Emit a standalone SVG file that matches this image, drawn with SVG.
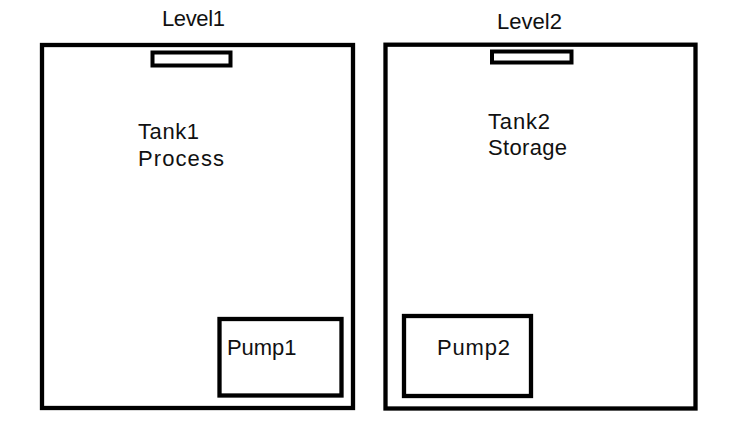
<svg xmlns="http://www.w3.org/2000/svg" width="732" height="435" viewBox="0 0 732 435">
<style>
.box{fill:none;stroke:#000;stroke-width:4.3}
.ind{fill:#fff;stroke:#000;stroke-width:4}
.t{font-family:"Liberation Sans",Arial,sans-serif;font-size:22px;fill:#111}
</style>
<rect width="732" height="435" fill="#fff"/>
<g id="tank1">
<rect class="box" x="42" y="45" width="311" height="363"/>
<text class="t" x="138" y="139" textLength="61" lengthAdjust="spacing">Tank1</text>
<text class="t" x="138" y="166" textLength="86" lengthAdjust="spacing">Process</text>
</g>
<g id="level1">
<rect class="ind" x="152.5" y="52.5" width="78" height="13"/>
<text class="t" x="162" y="26" textLength="63" lengthAdjust="spacing">Level1</text>
</g>
<g id="pump1">
<rect class="box" x="219.5" y="319" width="122" height="76.5"/>
<text class="t" x="227" y="355" textLength="69.5" lengthAdjust="spacing">Pump1</text>
</g>
<g id="tank2">
<rect class="box" x="385.5" y="44.7" width="310" height="363.8"/>
<text class="t" x="488" y="129" textLength="62" lengthAdjust="spacing">Tank2</text>
<text class="t" x="488" y="155" textLength="79" lengthAdjust="spacing">Storage</text>
</g>
<g id="level2">
<rect class="ind" x="492" y="51.5" width="79.5" height="11"/>
<text class="t" x="497" y="29" textLength="65" lengthAdjust="spacing">Level2</text>
</g>
<g id="pump2">
<rect class="box" x="404" y="316" width="127" height="80"/>
<text class="t" x="437" y="355" textLength="73" lengthAdjust="spacing">Pump2</text>
</g>
<g id="connectors"/>
</svg>
